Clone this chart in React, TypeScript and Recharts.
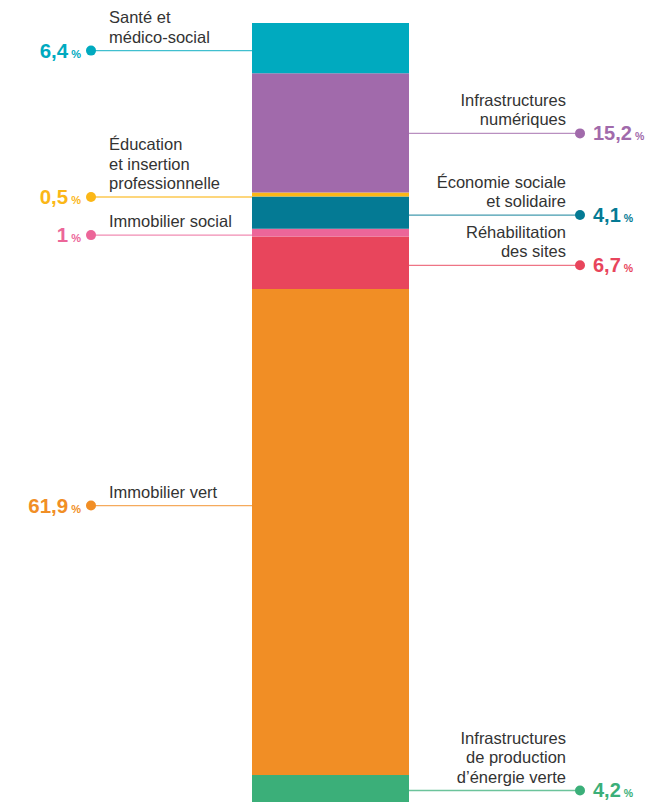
import { Bar, BarChart, LabelList, XAxis, YAxis } from "recharts";

// top-to-bottom order of the stacked column
const categories = [
  "sante",
  "numerique",
  "education",
  "ess",
  "immoSocial",
  "rehab",
  "immoVert",
  "energie"
];
const labels = [
  ["Santé et", "médico-social"],
  ["Infrastructures", "numériques"],
  ["Éducation", "et insertion", "professionnelle"],
  ["Économie sociale", "et solidaire"],
  ["Immobilier social"],
  ["Réhabilitation", "des sites"],
  ["Immobilier vert"],
  ["Infrastructures", "de production", "d’énergie verte"]
];
const shares = [6.4, 15.2, 0.5, 4.1, 1, 6.7, 61.9, 4.2];
const colors = [
  "#00aabf",
  "#a16aab",
  "#fbb717",
  "#047a94",
  "#ec6699",
  "#e8455c",
  "#f18e25",
  "#3baf79"
];
const sides = ["left", "right", "left", "right", "left", "right", "left", "right"];

const FONT = "'Liberation Sans', Arial, Helvetica, sans-serif";
const BAR_LEFT = 252;
const BAR_RIGHT = 409;

// leader lines sit a touch below each block's middle; the orange one well above
const lineNudge: Record<string, number> = { immoVert: -29, energie: -3.5, numerique: -2 };

const row: Record<string, number | string> = { name: "total" };
categories.forEach((c, i) => (row[c] = shares[i]));
const data = [row];

const fmt = (v: number) => String(v).replace(".", ",");

function makeLabel(i: number) {
  const key = categories[i];
  const color = colors[i];
  const side = sides[i];
  return (props: any) => {
    const y0 = Number(props.y);
    const h = Number(props.height);
    const top = Math.min(y0, y0 + h);
    const ly = top + Math.abs(h) / 2 + 2.5 + (lineNudge[key] ?? 0);
    const lines = labels[i];
    const lh = 19.5;
    const lastBase = ly - 8;
    if (side === "left") {
      return (
        <g>
          <line x1={91} x2={BAR_LEFT} y1={ly} y2={ly} stroke={color} strokeWidth={1.3} strokeOpacity={0.75} />
          <circle cx={91} cy={ly} r={5} fill={color} />
          <text x={81} y={ly + 7} textAnchor="end" fill={color} fontFamily={FONT} fontWeight="bold">
            <tspan fontSize={20.5}>{fmt(shares[i])}</tspan>
            <tspan fontSize={11} dx={3}>%</tspan>
          </text>
          {lines.map((t, k) => (
            <text
              key={k}
              x={109}
              y={lastBase - (lines.length - 1 - k) * lh}
              fill="#333"
              fontSize={16.5}
              fontFamily={FONT}
            >
              {t}
            </text>
          ))}
        </g>
      );
    }
    return (
      <g>
        <line x1={BAR_RIGHT} x2={580} y1={ly} y2={ly} stroke={color} strokeWidth={1.3} strokeOpacity={0.75} />
        <circle cx={580} cy={ly} r={5} fill={color} />
        <text x={593} y={ly + 6.5} textAnchor="start" fill={color} fontFamily={FONT} fontWeight="bold">
          <tspan fontSize={20}>{fmt(shares[i])}</tspan>
          <tspan fontSize={10.5} dx={3}>%</tspan>
        </text>
        {lines.map((t, k) => (
          <text
            key={k}
            x={566}
            y={lastBase - (lines.length - 1 - k) * lh}
            textAnchor="end"
            fill="#333"
            fontSize={16.5}
            fontFamily={FONT}
          >
            {t}
          </text>
        ))}
      </g>
    );
  };
}

export default function App() {
  // stack from the bottom, so render series in reverse order
  const order = categories.map((_, i) => i).reverse();
  return (
    <div
      style={{
        position: "absolute",
        top: 0,
        left: 0,
        width: 646,
        height: 802,
        overflow: "hidden",
        background: "#fff"
      }}
    >
      <BarChart
        width={646}
        height={808}
        data={data}
        margin={{ top: 23, right: 646 - BAR_RIGHT, bottom: 0, left: BAR_LEFT }}
        barCategoryGap={0}
      >
        <XAxis dataKey="name" hide />
        <YAxis type="number" domain={[0, 100]} hide />
        {order.map((i) => (
          <Bar
            key={categories[i]}
            dataKey={categories[i]}
            stackId="a"
            fill={colors[i]}
            isAnimationActive={false}
          >
            <LabelList dataKey={categories[i]} content={makeLabel(i)} />
          </Bar>
        ))}
      </BarChart>
    </div>
  );
}
